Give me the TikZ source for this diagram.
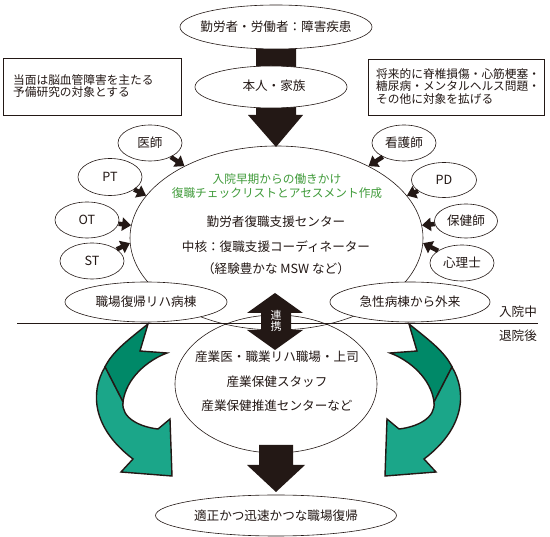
\documentclass[tikz,border=0pt]{standalone}
\usepackage{fontspec}
\setmainfont{Noto Sans CJK JP}
\usetikzlibrary{arrows.meta,shapes.geometric}
\definecolor{ink}{RGB}{35,24,21}
\definecolor{gtext}{RGB}{64,155,58}
\definecolor{gdark}{RGB}{0,137,104}
\definecolor{glight}{RGB}{27,166,137}
\newcommand{\greenarrowshape}{%
  \filldraw[garrow, fill=gdark] (148,324) .. controls (128,340) and (112,352) .. (105,367)
     -- (123,402) .. controls (126,378) and (148,360) .. (167,353) -- (140,351) -- cycle;
  \filldraw[garrow, fill=glight] (105,367) .. controls (90,392) and (92,428) .. (133,459)
     -- (121,472) -- (172,476) -- (170,419) -- (158,429)
     .. controls (140,427) and (121,418) .. (123,402) -- cycle;
}
\begin{document}
\begin{tikzpicture}[x=1pt,y=-1pt,
  oval/.style={draw=ink, ellipse, fill=white, inner sep=0pt, line width=0.6pt},
  txt/.style={inner sep=0pt, font=\fontsize{12.6}{14}\selectfont, text=ink, align=center},
  stxt/.style={inner sep=0pt, font=\fontsize{11.7}{12.6}\selectfont, text=ink, align=left},
  gtxt/.style={inner sep=0pt, font=\fontsize{11.7}{14}\selectfont, text=gtext, align=center},
  box/.style={draw=ink, line width=0.7pt, inner sep=0pt, fill=white},
  feed/.style={draw=ink, line width=4.5pt, -{Triangle[length=9pt,width=13pt]}},
  blk/.style={fill=ink, draw=none},
  garrow/.style={draw=ink, line width=1.4pt, line join=miter},
]
\useasboundingbox (0,0) rectangle (550,537);
\fill[white] (0,0) rectangle (550,537);

% big ellipse
\node[oval, minimum width=293pt, minimum height=184pt] (big) at (276.5,238) {};

% top black arrow
\fill[blk] (256,40) -- (296,40) -- (296,115) -- (303,115) -- (276,147) -- (248,115) -- (256,115) -- cycle;

\node[oval, minimum width=192pt, minimum height=44pt] (top) at (276,27) {};
\node[txt] (toptext) at (top.center) {勤労者・労働者：障害疾患};
\node[oval, minimum width=152pt, minimum height=42pt] (hon) at (271,87) {};
\node[txt] (hontext) at (274,86) {本人・家族};

% boxes
\node[box, anchor=north west, minimum width=178pt, minimum height=57pt] (lbox) at (3,58) {};
\node[stxt, anchor=west] (lboxtext) at (13,86) {当面は脳血管障害を主たる\\予備研究の対象とする};
\node[box, anchor=north west, minimum width=176pt, minimum height=56pt] (rbox) at (368,59) {};
\node[stxt, anchor=west] (rboxtext) at (376,86.5) {将来的に脊椎損傷・心筋梗塞・\\糖尿病・メンタルヘルス問題・\\その他に対象を拡げる};

% big ellipse texts
\node[gtxt] (green) at (277,186) {入院早期からの働きかけ\\復職チェックリストとアセスメント作成};
\node[txt] (c1) at (276,222) {勤労者復職支援センター};
\node[txt] (c2) at (276,247) {中核：復職支援コーディネーター};
\node[txt] (c3) at (276,269) {（経験豊かな MSW など）};

% satellites
\node[oval, minimum width=64pt, minimum height=36pt] (doc) at (150,143) {};
\node[txt] at (doc.center) {医師};
\node[oval, minimum width=64pt, minimum height=37pt] (pt) at (110,177) {};
\node[txt] at (pt.center) {PT};
\node[oval, minimum width=64pt, minimum height=36pt] (ot) at (87,220) {};
\node[txt] at (ot.center) {OT};
\node[oval, minimum width=64pt, minimum height=36pt] (st) at (92,261) {};
\node[txt] at (st.center) {ST};
\node[oval, minimum width=64pt, minimum height=36pt] (nurse) at (404,143) {};
\node[txt] at (nurse.center) {看護師};
\node[oval, minimum width=65pt, minimum height=35pt] (pd) at (444,180) {};
\node[txt] at (pd.center) {PD};
\node[oval, minimum width=63pt, minimum height=34pt] (hoken) at (466,221) {};
\node[txt] at (hoken.center) {保健師};
\node[oval, minimum width=64pt, minimum height=36pt] (shinri) at (462,263) {};
\node[txt] at (shinri.center) {心理士};

\draw[feed] (doc) -- (big.142);
\draw[feed] (pt) -- (big.162);
\draw[feed] (ot) -- (big.175);
\draw[feed] (st) -- (big.182);
\draw[feed] (nurse) -- (big.38);
\draw[feed] (pd) -- (big.18);
\draw[feed] (hoken) -- (big.5);
\draw[feed] (shinri) -- (big.-2.5);

% post-discharge ellipse
\node[oval, fill=none, minimum width=202pt, minimum height=138pt] (post) at (276,384) {};
\node[txt] (p1) at (277,357) {産業医・職業リハ職場・上司};
\node[txt] (p2) at (277,382) {産業保健スタッフ};
\node[txt] (p3) at (277,406) {産業保健推進センターなど};

% separator
\coordinate (sepL) at (17,323);
\coordinate (sepR) at (538,323);
\draw[ink, line width=0.6pt] (sepL) -- (sepR);
\node[txt] (nyu) at (518,312) {入院中};
\node[txt] (tai) at (518,336) {退院後};

\node[oval, minimum width=162pt, minimum height=40pt] (shoku) at (146,302) {};
\node[txt] at (shoku.center) {職場復帰リハ病棟};
\node[oval, minimum width=160pt, minimum height=40pt] (kyu) at (410,302) {};
\node[txt] at (kyu.center) {急性病棟から外来};

% green curved arrows
\greenarrowshape
\begin{scope}[xshift=557pt, xscale=-1]
\greenarrowshape
\end{scope}

% renkei double arrow
\fill[blk] (275,293) -- (303,313) -- (291,313) -- (291,330) -- (303,330) -- (275,350)
  -- (247,330) -- (261,330) -- (261,313) -- (247,313) -- cycle;
\node[inner sep=0pt, text=white, font=\fontsize{11}{11.5}\selectfont, align=center] (renkei) at (276,321) {連\\携};

% bottom arrow and final
\fill[blk] (259,445) -- (293,445) -- (293,465) -- (305,465) -- (276,492) -- (247,465) -- (259,465) -- cycle;
\node[oval, minimum width=241pt, minimum height=41pt] (final) at (276,515.5) {};
\node[txt] at (final.center) {適正かつ迅速かつな職場復帰};
\end{tikzpicture}
\end{document}
